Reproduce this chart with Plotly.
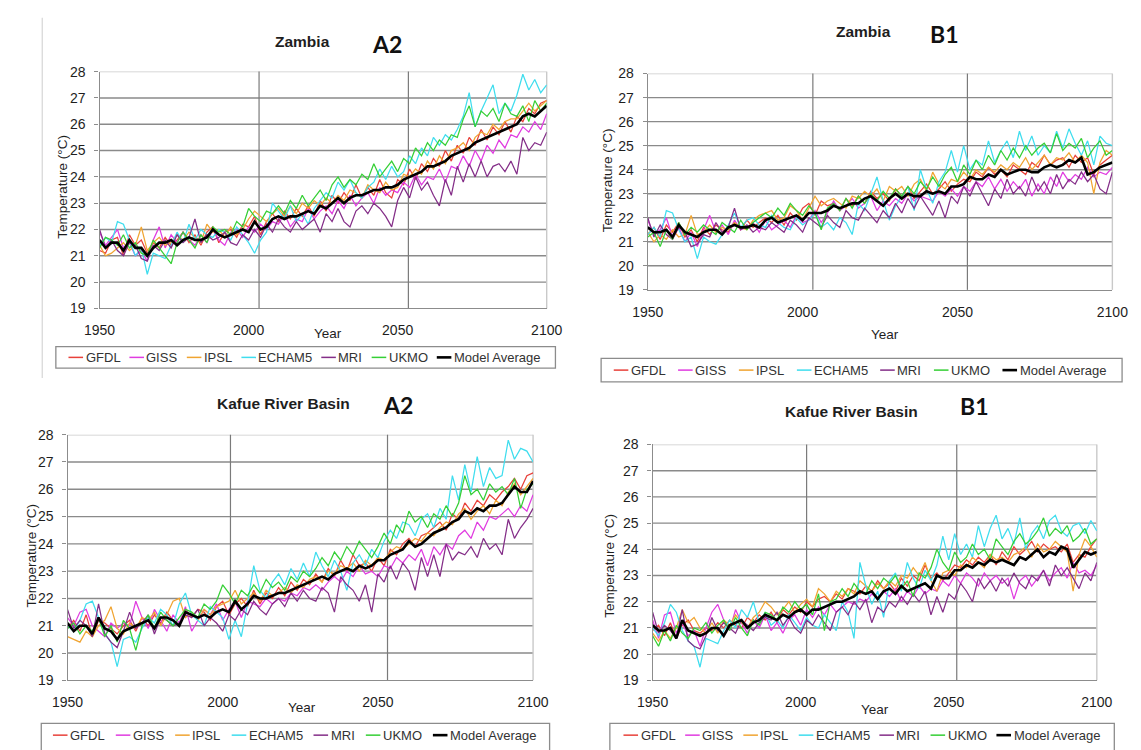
import plotly.graph_objects as go

W, H = 1141, 750
years = list(range(1950, 2101, 2))  # 76 points

models = ["GFDL", "GISS", "IPSL", "ECHAM5", "MRI", "UKMO", "Model Average"]
colors = ["#E8413A", "#E03CE0", "#F0A431", "#3FDDEE", "#842E88", "#35CF35", "#000000"]
xtick_vals = [1950, 2000, 2050, 2100]
ytick_vals = list(range(19, 29))

# ---------------- Zambia A2 ----------------
za2_gfdl = [21.2,21.1,21.6,21.7,21.0,21.8,21.4,21.6,21.1,21.5,
            21.3,21.7,21.4,21.6,21.9,21.5,21.8,21.4,21.9,22.1,
            21.5,21.9,22.0,21.7,22.2,22.1,22.5,21.8,22.3,22.6,
            22.3,22.7,22.4,22.8,22.5,22.9,22.5,23.1,22.7,23.3,
            23.0,23.4,23.1,23.7,23.2,23.6,23.3,23.9,23.4,23.2,
            23.9,23.7,24.3,23.9,24.5,24.2,24.7,24.4,25.0,24.6,
            25.2,24.9,25.5,25.2,25.8,25.4,25.9,25.6,26.1,25.7,
            26.3,26.1,26.6,26.4,26.8,26.9]
za2_giss = [21.9,21.4,21.7,22.0,21.3,21.5,21.0,21.2,20.8,21.6,
            22.1,21.3,21.8,21.5,21.9,21.6,21.4,21.8,21.5,22.0,
            21.6,21.4,21.9,22.0,21.7,22.1,21.9,22.2,22.0,22.3,
            22.2,22.6,22.1,22.4,22.3,22.8,22.4,22.7,22.9,22.6,
            23.1,22.8,23.3,22.9,23.2,23.4,23.0,23.6,23.3,23.5,
            23.4,23.8,23.6,24.1,23.7,24.0,23.9,24.3,23.8,24.4,
            24.3,24.8,24.4,25.0,24.6,25.2,24.9,25.4,25.1,25.6,
            25.5,25.9,25.7,26.1,25.8,26.4]
za2_ipsl = [21.4,21.0,21.1,21.3,21.5,21.2,21.4,22.1,21.2,21.5,
            21.7,21.4,21.5,21.8,21.6,21.9,21.7,21.5,22.2,21.9,
            22.0,21.7,22.1,21.8,22.0,22.4,22.7,22.5,22.3,22.6,
            22.8,22.5,22.9,22.6,23.0,22.8,23.1,22.9,23.2,23.0,
            23.3,23.1,23.5,23.4,23.2,23.7,23.5,23.4,23.8,23.5,
            23.6,24.1,24.0,24.3,24.1,24.6,24.3,24.8,24.5,25.0,
            25.1,25.3,25.0,25.5,25.7,25.6,26.0,25.8,26.1,26.2,
            26.2,26.5,26.8,26.5,26.7,26.9]
za2_echam5 = [21.4,21.7,21.5,22.3,22.2,21.6,21.0,21.3,20.3,21.1,
              21.0,20.9,21.4,21.9,21.5,22.2,21.6,22.0,21.8,21.7,
              22.0,21.9,21.6,22.1,21.8,21.5,21.1,21.6,21.9,23.0,
              22.7,22.4,22.9,22.3,22.6,22.2,22.8,23.1,23.4,23.2,
              23.8,23.5,23.9,23.4,23.2,23.6,23.8,24.3,23.9,24.4,
              24.0,24.2,24.8,24.5,25.1,24.8,25.5,25.2,25.6,25.4,
              25.8,26.3,27.2,25.9,26.5,27.0,27.5,26.4,26.8,26.5,
              27.1,27.9,27.3,27.7,27.2,27.5]
za2_mri = [22.0,21.3,21.6,21.2,21.0,21.5,21.4,20.9,20.8,21.4,
           21.2,21.6,21.3,21.8,21.5,21.7,22.4,21.5,21.8,21.6,
           21.7,21.9,21.5,21.4,21.8,21.6,22.0,21.7,22.2,21.9,
           22.4,22.1,21.9,22.3,22.0,22.2,22.4,21.9,22.6,22.3,
           22.8,22.3,22.1,22.7,22.9,22.6,23.0,22.8,22.5,22.1,
           23.1,23.6,23.2,24.0,23.5,23.8,23.3,22.9,23.9,23.3,
           24.4,23.8,24.5,24.0,24.6,24.0,24.4,24.5,24.2,24.6,
           24.1,25.5,25.0,25.3,25.2,25.7]
za2_ukmo = [21.3,21.7,21.6,21.4,21.8,21.3,21.5,21.1,21.0,21.6,
            21.3,21.0,20.7,21.5,21.9,21.6,21.3,21.8,21.5,22.1,
            21.9,22.0,21.8,22.3,22.1,22.8,22.5,22.3,22.7,22.6,
            22.9,22.6,23.1,22.8,23.3,22.9,23.2,23.5,23.1,23.7,
            24.0,23.6,23.9,23.7,24.1,23.9,24.5,24.0,24.3,24.6,
            24.2,24.7,24.5,25.1,24.8,25.3,25.0,25.4,25.2,25.6,
            25.5,26.2,26.7,25.9,26.5,26.3,26.6,26.1,26.8,26.4,
            26.3,26.7,26.1,26.9,26.5,26.8]
za2_avg = [21.6,21.3,21.5,21.5,21.2,21.6,21.3,21.3,21.0,21.3,
           21.5,21.5,21.6,21.4,21.6,21.7,21.6,21.6,21.7,22.0,
           21.8,21.7,21.8,21.9,22.0,21.9,22.3,22.0,22.1,22.4,
           22.5,22.4,22.5,22.5,22.6,22.7,22.6,22.9,22.8,23.0,
           23.2,23.0,23.2,23.3,23.3,23.4,23.5,23.5,23.6,23.6,
           23.7,23.9,24.0,24.1,24.2,24.4,24.4,24.5,24.6,24.8,
           24.9,25.0,25.1,25.3,25.4,25.5,25.6,25.7,25.8,25.9,
           26.0,26.3,26.4,26.3,26.5,26.7]

# ---------------- Zambia B1 ----------------
zb1_gfdl = [21.3,21.6,21.1,21.7,21.4,21.8,21.2,21.5,21.0,21.6,
            21.3,21.7,21.5,21.4,21.8,21.5,21.9,21.6,21.8,22.0,
            21.8,22.1,21.7,22.2,21.9,22.4,22.6,22.1,22.7,22.5,
            22.6,22.3,22.8,22.5,22.9,22.6,23.1,22.8,23.0,22.7,
            23.2,22.9,23.3,22.8,23.1,23.4,23.0,23.2,23.5,23.1,
            23.4,23.6,23.5,23.9,23.7,24.1,23.8,24.0,23.7,24.2,
            24.0,23.8,24.3,24.1,24.6,24.2,24.4,24.5,24.1,24.6,
            24.3,24.5,23.8,24.2,24.4,24.6]
zb1_giss = [21.9,21.3,21.5,22.0,21.2,21.6,21.0,21.4,20.8,21.5,
            22.1,21.4,21.7,21.3,21.9,21.5,21.6,21.8,21.4,21.9,
            21.5,21.7,21.9,21.6,22.1,21.8,21.9,22.3,21.8,22.2,
            22.7,22.3,22.5,22.8,22.4,22.6,22.9,22.3,22.7,22.5,
            22.8,22.6,23.0,22.7,22.9,22.8,22.7,23.1,22.9,23.2,
            22.9,23.3,23.1,23.5,23.3,23.7,23.2,23.6,23.1,23.5,
            23.2,23.6,22.9,23.4,23.0,23.7,23.3,23.9,23.5,23.8,
            23.6,24.1,23.7,23.9,23.8,24.1]
zb1_ipsl = [21.4,21.0,21.3,21.1,21.5,21.2,21.3,22.1,21.3,21.4,
            21.7,21.4,21.6,21.5,21.8,21.6,21.5,21.9,22.1,22.2,
            22.3,21.9,22.0,22.5,22.3,21.9,22.4,22.9,22.5,22.7,
            22.8,22.6,22.4,22.9,22.8,23.1,22.9,23.2,22.7,23.3,
            23.1,23.3,22.9,23.4,23.6,23.1,23.9,23.4,23.2,23.6,
            23.5,23.9,23.6,24.0,23.8,24.1,23.9,24.2,24.0,24.3,
            24.1,24.5,24.0,24.3,24.6,24.2,24.5,24.4,24.7,24.3,
            24.6,24.3,23.0,24.3,24.8,24.6]
zb1_echam5 = [21.3,21.6,21.2,22.3,22.2,21.5,21.0,21.2,20.3,21.2,
              21.0,20.9,21.3,21.7,22.2,21.6,21.9,22.0,21.7,21.6,
              22.1,21.8,21.6,21.5,22.0,21.7,21.9,22.2,21.6,21.8,
              21.5,22.0,21.8,21.3,22.6,22.3,23.0,23.7,22.7,21.9,
              22.5,22.9,23.3,22.3,24.0,23.2,22.6,23.5,23.9,24.8,
              23.9,25.0,24.0,24.4,24.2,25.2,24.3,24.8,25.2,24.5,
              25.6,24.8,25.4,24.6,25.0,24.7,25.6,24.9,25.7,25.1,
              24.6,25.2,24.2,25.4,25.1,25.0]
zb1_mri = [22.0,21.2,21.7,21.3,21.1,21.6,21.4,20.8,20.9,21.3,
           21.2,21.8,21.4,21.6,22.4,21.5,21.7,21.4,21.6,21.5,
           21.8,21.6,21.4,21.9,21.7,21.4,22.0,21.8,21.6,22.1,
           21.8,21.6,22.3,22.0,21.9,22.4,22.1,21.8,22.3,22.0,
           22.6,22.2,22.8,22.4,22.9,22.5,22.1,22.7,22.0,22.9,
           22.6,23.3,22.9,23.5,23.0,22.5,23.2,22.8,23.6,23.0,
           23.3,22.9,23.7,23.1,23.5,23.0,23.8,23.2,23.6,23.4,
           23.9,23.5,23.8,23.2,23.0,23.9]
zb1_ukmo = [21.2,21.4,20.8,21.5,21.1,21.8,21.3,21.6,21.4,21.7,
            21.5,21.3,21.8,21.6,21.4,21.9,21.5,21.8,22.0,22.2,
            22.0,22.4,22.1,22.6,22.3,22.1,22.5,22.2,21.5,22.4,
            22.6,22.3,22.8,22.4,22.9,22.6,23.0,22.7,23.1,22.8,
            23.2,22.9,23.3,23.0,23.5,23.2,23.7,23.3,23.8,24.1,
            23.5,24.2,23.8,24.4,24.0,24.6,24.2,24.8,24.4,24.9,
            24.5,25.0,24.6,24.9,25.1,24.7,25.5,24.8,25.1,24.9,
            25.3,24.5,24.9,25.2,24.6,24.8]
zb1_avg = [21.6,21.4,21.4,21.5,21.2,21.7,21.4,21.3,21.2,21.4,
           21.5,21.5,21.3,21.6,21.7,21.6,21.6,21.7,21.6,21.9,
           22.0,21.8,21.9,22.0,22.1,21.9,22.2,22.2,22.2,22.3,
           22.5,22.4,22.5,22.6,22.6,22.8,22.9,22.7,22.5,22.8,
           23.0,22.8,23.0,22.9,22.9,23.1,23.0,23.1,23.0,23.3,
           23.3,23.4,23.7,23.6,23.6,23.8,23.7,24.0,23.8,23.9,
           24.0,24.0,23.9,23.9,24.1,24.2,24.1,24.2,24.4,24.3,
           24.5,23.8,23.9,24.1,24.2,24.3]

# ---------------- Kafue River Basin A2 ----------------
ka2_gfdl = [20.9,21.2,20.8,21.4,20.6,21.2,21.1,20.9,20.7,21.0,
            21.2,20.8,21.3,21.0,21.4,21.1,21.5,21.2,21.0,21.6,
            21.3,21.6,21.5,21.2,21.7,21.9,21.4,21.8,22.0,21.7,
            22.3,21.8,22.2,22.0,22.4,22.1,22.6,22.3,22.7,22.5,
            22.9,22.6,23.1,22.8,23.4,23.0,23.6,23.2,23.3,23.0,
            23.5,23.2,23.8,23.6,24.0,24.2,23.9,24.3,24.4,24.6,
            24.8,24.5,25.1,24.9,25.5,25.2,25.6,25.4,25.8,25.6,
            25.9,26.1,26.4,26.0,26.5,26.6]
ka2_giss = [21.3,21.0,21.5,21.6,21.0,20.8,20.6,21.1,20.9,21.1,
            21.0,21.9,21.3,20.9,21.6,21.2,20.8,21.4,21.1,21.7,
            20.8,21.2,21.6,21.4,21.8,21.2,21.6,21.9,21.3,21.9,
            21.8,21.7,22.0,21.8,22.0,21.9,22.2,22.1,22.4,22.3,
            22.5,22.3,22.6,22.8,22.6,23.0,22.8,23.2,22.9,23.0,
            22.8,23.2,23.1,23.5,23.3,23.6,23.4,23.8,23.2,23.9,
            23.6,24.0,23.8,24.3,24.5,24.2,24.8,24.5,25.0,24.9,
            25.1,25.3,25.0,25.4,25.2,25.8]
ka2_ipsl = [20.6,20.5,20.4,20.8,20.6,21.0,21.2,21.7,20.9,20.7,
            21.1,20.9,21.3,21.2,21.5,21.0,21.4,21.9,22.0,21.3,
            21.5,21.2,21.6,21.4,21.7,21.8,21.9,22.3,21.8,22.0,
            22.2,21.9,22.3,22.1,22.2,22.4,22.2,22.5,22.4,22.7,
            22.8,22.6,23.0,22.9,23.2,23.1,23.3,23.0,23.4,23.2,
            23.5,23.4,23.7,23.9,23.8,24.0,24.2,24.1,24.4,24.3,
            24.6,24.8,24.7,25.1,25.3,24.9,25.2,25.4,25.1,25.6,
            25.4,25.9,26.2,25.8,26.1,26.4]
ka2_echam5 = [21.0,20.8,21.2,21.8,21.9,21.3,20.7,20.4,19.5,20.5,
              20.6,20.4,20.9,21.3,21.1,21.6,21.4,21.0,21.8,22.2,
              21.4,21.2,21.0,21.7,21.5,21.3,20.5,21.2,20.6,21.8,
              23.2,22.3,22.0,22.6,22.9,22.5,23.1,22.7,23.3,22.8,
              23.7,23.2,22.8,23.4,23.0,22.3,23.3,23.6,23.2,23.8,
              23.5,24.1,24.5,24.2,24.8,24.7,24.3,24.9,25.1,24.6,
              25.3,24.9,26.5,25.6,26.9,25.9,27.2,26.1,26.8,26.4,
              26.5,27.8,27.1,27.5,27.4,27.0]
ka2_mri = [21.6,20.9,21.2,21.0,20.6,21.8,20.7,20.4,20.2,20.8,
           21.5,20.9,21.1,21.4,20.7,21.3,21.2,21.0,21.1,21.4,
           21.3,21.6,21.0,21.3,21.1,20.8,21.4,21.2,21.6,21.4,
           21.9,21.6,21.4,21.8,22.0,21.7,22.2,21.9,22.3,22.0,
           21.9,22.4,22.2,21.5,22.8,22.5,22.3,21.9,22.5,21.5,
           22.9,22.6,23.2,22.7,23.3,23.0,22.3,23.5,22.8,23.6,
           22.8,24.0,23.4,23.7,23.6,23.9,23.5,24.2,23.8,24.0,
           23.6,24.9,24.2,24.6,24.9,25.3]
ka2_ukmo = [20.9,21.1,20.7,21.0,20.8,21.3,20.6,21.0,20.4,21.2,
            20.9,20.1,21.0,21.4,20.9,21.5,21.2,21.0,21.3,21.6,
            21.5,21.3,21.8,21.6,21.9,22.5,22.2,21.8,22.3,22.1,
            22.5,22.2,22.7,22.4,22.6,22.3,22.8,22.6,23.0,22.8,
            23.1,23.5,23.2,23.7,23.4,23.9,23.6,24.1,23.8,23.5,
            23.9,24.4,24.0,24.7,24.4,25.2,24.8,25.0,24.6,25.1,
            24.9,25.4,25.0,25.5,26.5,25.8,26.0,25.6,26.2,25.9,
            26.1,25.8,26.4,25.3,26.0,26.2]
ka2_avg = [21.1,20.8,21.0,21.0,20.7,21.3,20.9,20.8,20.5,20.8,
           20.9,21.0,21.1,21.2,20.9,21.3,21.3,21.2,21.0,21.5,
           21.4,21.3,21.4,21.3,21.5,21.6,21.5,21.9,21.6,21.8,
           22.1,22.0,22.0,22.1,22.2,22.2,22.3,22.4,22.5,22.6,
           22.7,22.8,22.7,22.9,23.0,23.1,23.0,23.2,23.1,23.2,
           23.4,23.4,23.6,23.7,23.8,24.1,23.9,24.0,24.2,24.4,
           24.5,24.6,24.8,24.9,25.2,25.1,25.3,25.2,25.4,25.4,
           25.5,25.8,26.1,25.9,25.9,26.3]

# ---------------- Kafue River Basin B1 ----------------
kb1_gfdl = [20.9,21.1,20.7,21.2,20.6,21.1,21.3,20.9,20.8,21.0,
            20.9,21.2,21.0,21.3,21.1,21.0,21.4,21.2,21.5,21.3,
            21.6,21.2,21.7,21.5,21.8,21.6,22.0,21.8,22.1,22.2,
            22.0,22.3,22.1,22.5,22.4,22.3,22.6,22.4,22.8,22.5,
            22.7,22.4,22.9,22.6,23.0,22.8,23.4,22.9,23.1,22.8,
            23.1,23.4,23.3,23.6,23.4,23.7,23.5,23.8,23.4,23.9,
            23.6,24.1,23.8,24.0,24.3,23.9,24.2,24.0,24.1,23.9,
            24.2,23.5,23.8,23.7,24.1,24.4]
kb1_giss = [21.3,20.6,21.5,21.6,20.8,21.2,20.7,20.9,20.3,21.0,
            21.6,21.9,21.3,20.9,21.7,21.2,20.8,21.3,21.0,21.5,
            20.9,21.2,20.8,21.3,21.5,21.1,21.7,21.4,21.8,21.5,
            21.9,21.6,21.8,22.0,21.9,22.1,22.0,22.3,22.1,22.4,
            22.2,22.5,22.0,22.4,22.2,22.6,22.3,22.5,22.4,22.8,
            22.6,23.0,22.7,23.1,22.9,22.6,23.1,22.8,23.0,22.7,
            22.9,22.1,22.8,23.0,22.6,22.9,23.2,22.8,23.1,23.3,
            22.9,23.5,23.1,23.2,23.0,23.4]
kb1_ipsl = [20.8,20.5,20.9,20.6,21.0,21.7,21.2,21.4,21.0,20.8,
            21.2,20.8,21.3,21.1,21.5,21.2,21.0,21.4,21.6,22.0,
            21.8,21.5,21.7,22.0,21.6,21.9,22.1,21.8,22.5,22.3,
            22.0,22.4,22.2,22.5,22.3,22.8,22.6,22.4,22.7,22.5,
            22.8,22.6,23.0,22.9,23.3,23.0,23.5,22.8,22.4,23.1,
            23.2,23.0,23.4,23.3,23.7,23.5,23.3,23.8,23.6,23.7,
            23.5,23.8,23.9,24.1,23.7,24.2,23.9,24.0,24.3,24.1,
            23.9,22.4,23.8,24.4,24.1,23.7]
kb1_echam5 = [21.0,20.7,21.2,21.9,21.6,20.9,20.5,20.3,19.5,20.6,
              20.5,20.4,20.9,21.3,21.0,21.7,21.4,22.0,21.2,21.6,
              21.1,21.3,21.0,21.5,21.2,20.9,21.4,21.1,21.0,21.5,
              21.2,20.9,22.0,21.6,20.6,23.5,22.6,21.9,22.4,21.4,
              22.8,23.1,22.4,23.5,22.9,22.5,23.2,22.8,23.4,24.5,
              23.6,24.6,23.8,24.2,23.7,24.9,24.1,24.8,25.3,24.4,
              24.8,24.2,25.2,24.0,24.6,24.9,24.4,25.1,25.3,24.7,
              24.5,24.9,25.0,24.6,25.1,24.7]
kb1_mri = [21.6,20.8,21.1,20.9,20.6,21.7,20.5,20.3,20.2,20.7,
           21.4,20.9,21.2,21.0,20.8,21.3,21.1,20.9,21.2,21.4,
           21.3,21.6,21.1,21.4,21.0,20.8,21.3,21.1,21.5,21.2,
           20.9,21.6,21.8,21.5,22.0,21.7,22.1,21.2,21.8,21.6,
           22.0,21.8,22.2,21.9,22.3,22.0,22.4,21.5,22.2,21.6,
           22.3,22.1,22.7,22.4,22.0,22.9,22.5,22.8,22.4,22.9,
           22.6,23.1,22.7,22.5,23.0,22.8,23.2,22.6,23.4,23.0,
           23.3,22.9,22.5,23.1,22.8,23.5]
kb1_ukmo = [20.7,20.3,20.9,20.5,21.1,20.8,20.6,21.0,20.9,21.2,
            20.8,21.1,21.3,20.9,21.4,21.0,20.7,21.3,21.1,21.6,
            21.5,21.3,21.8,21.6,22.0,21.7,21.9,21.5,22.3,20.9,
            22.0,22.1,22.5,22.2,22.7,22.4,22.3,22.8,22.5,22.9,
            22.7,23.0,22.5,22.8,22.2,23.1,22.9,23.3,24.0,23.5,
            23.2,23.9,23.5,23.7,24.2,23.8,24.0,23.6,24.4,24.1,
            23.8,24.3,24.6,24.2,24.4,24.7,25.2,24.5,24.8,24.6,
            24.9,24.3,24.5,24.8,24.2,24.4]
kb1_avg = [21.1,20.9,20.9,21.0,20.6,21.3,20.9,20.8,20.7,20.8,
           21.0,21.0,20.7,21.1,21.2,21.3,21.0,21.2,21.3,21.5,
           21.4,21.3,21.5,21.4,21.6,21.7,21.5,21.7,21.7,21.8,
           21.9,22.0,22.0,22.1,22.2,22.4,22.3,22.4,22.1,22.4,
           22.5,22.3,22.6,22.4,22.5,22.6,22.7,22.5,23.0,22.9,
           22.9,23.2,23.2,23.4,23.3,23.5,23.4,23.6,23.5,23.6,
           23.5,23.4,23.7,23.6,23.8,24.0,23.7,23.9,23.8,24.1,
           24.0,23.3,23.6,23.9,23.8,23.9]

# ---------------- panel layout (pixels) ----------------
panels = [
    dict(region="Zambia", scen="A2",
         series=[za2_gfdl, za2_giss, za2_ipsl, za2_echam5, za2_mri, za2_ukmo, za2_avg],
         plot=(86, 546, 65, 307), title=(295, 34), scen_pos=(382, 37),
         year=(321, 333), ytitle=(47, 183), vgrid=(2003.5, 2053.6),
         legbox=(41, 346, 555, 368), legstart=54, leggap=12.0, legy=357),
    dict(region="Zambia", scen="B1",
         series=[zb1_gfdl, zb1_giss, zb1_ipsl, zb1_echam5, zb1_mri, zb1_ukmo, zb1_avg],
         plot=(650, 1128, 67, 288), title=(872, 24), scen_pos=(955, 27),
         year=(894, 334), ytitle=(608, 176), vgrid=(2003.3, 2053.2),
         legbox=(602, 358, 1138, 382), legstart=615, leggap=15.5, legy=370),
    dict(region="Kafue River Basin", scen="A2",
         series=[ka2_gfdl, ka2_giss, ka2_ipsl, ka2_echam5, ka2_mri, ka2_ukmo, ka2_avg],
         plot=(53, 532, 436, 687), title=(275, 404), scen_pos=(393, 406),
         year=(294, 715), ytitle=(16, 560), vgrid=(2002.5, 2053.1),
         legbox=(26, 731, 549, 775), legstart=38, leggap=14.0, legy=743),
    dict(region="Kafue River Basin", scen="B1",
         series=[kb1_gfdl, kb1_giss, kb1_ipsl, kb1_echam5, kb1_mri, kb1_ukmo, kb1_avg],
         plot=(655, 1112, 446, 687), title=(860, 412), scen_pos=(986, 407),
         year=(884, 717), ytitle=(611, 570), vgrid=(2002.0, 2052.7),
         legbox=(611, 731, 1130, 775), legstart=625, leggap=12.8, legy=743),
]

for p in panels:
    for s in p["series"]:
        assert len(s) == len(years), (p["region"], p["scen"], len(s))

# Arial / Liberation Sans advance widths (per 1000 em)
CW = {"G": 778, "F": 611, "D": 722, "L": 556, "I": 278, "S": 667, "P": 667, "E": 667,
      "C": 722, "H": 722, "A": 667, "M": 833, "5": 556, "R": 722, "U": 722, "K": 667,
      "O": 778, "o": 556, "d": 556, "e": 556, "l": 222, " ": 278, "v": 500, "r": 333,
      "a": 556, "g": 556}


def text_w(s, size):
    return sum(CW.get(c, 556) for c in s) * size / 1000.0


def px(x):
    return x / W


def py(y):
    return 1 - y / H


FONT = "Liberation Sans, Arial, sans-serif"
TXT = "#1e1e1e"
GRID = "#8a8a8a"

fig = go.Figure()
shapes = []
annotations = []

for i, p in enumerate(panels, start=1):
    xa = "x" if i == 1 else f"x{i}"
    ya = "y" if i == 1 else f"y{i}"
    x0, x1, y0, y1 = p["plot"]

    for name, col, vals in zip(models, colors, p["series"]):
        fig.add_trace(go.Scatter(
            x=years, y=vals, mode="lines", name=name, xaxis=xa, yaxis=ya,
            line=dict(color=col, width=2.6 if name == "Model Average" else 1.25),
            showlegend=False, hoverinfo="skip"))

    fig.layout[f"xaxis{'' if i == 1 else i}"] = dict(
        domain=[px(x0), px(x1)], anchor=ya, range=[1950, 2100],
        tickvals=xtick_vals, ticktext=[str(v) for v in xtick_vals],
        showgrid=False, zeroline=False, ticks="", showline=True,
        linecolor="#8c8c8c", linewidth=1.4,
        tickfont=dict(size=14, color=TXT, family=FONT), ticklabelstandoff=9,
        fixedrange=True)
    fig.layout[f"yaxis{'' if i == 1 else i}"] = dict(
        domain=[py(y1), py(y0)], anchor=xa, range=[19, 28],
        tickvals=ytick_vals, showgrid=False, zeroline=False,
        ticks="outside", ticklen=4, tickcolor="#8c8c8c", tickwidth=1.2,
        showline=True, linecolor="#8c8c8c", linewidth=1.4,
        tickfont=dict(size=14, color=TXT, family=FONT), ticklabelstandoff=6,
        fixedrange=True)

    # horizontal gridlines
    for v in ytick_vals[1:-1]:
        shapes.append(dict(type="line", xref=f"{xa} domain", yref=ya, x0=0, x1=1,
                           y0=v, y1=v, line=dict(color=GRID, width=1.4), layer="below"))
    # light top and right border
    shapes.append(dict(type="line", xref=f"{xa} domain", yref=ya, x0=0, x1=1,
                       y0=28, y1=28, line=dict(color="#c9c9c9", width=1.4), layer="below"))
    shapes.append(dict(type="line", xref=f"{xa} domain", yref=f"{ya} domain", x0=1, x1=1,
                       y0=0, y1=1, line=dict(color="#c9c9c9", width=1.4), layer="below"))
    # vertical gridlines
    for gx in p["vgrid"]:
        shapes.append(dict(type="line", xref=xa, yref=f"{ya} domain", x0=gx, x1=gx,
                           y0=0, y1=1, line=dict(color="#7a7a7a", width=1.2), layer="below"))

    # titles
    annotations.append(dict(x=px(p["title"][0]), y=py(p["title"][1]), xref="paper", yref="paper",
                            text=f"<b>{p['region']}</b>", showarrow=False,
                            xanchor="center", yanchor="middle",
                            font=dict(size=15.5, color=TXT, family=FONT)))
    annotations.append(dict(x=px(p["scen_pos"][0]), y=py(p["scen_pos"][1]), xref="paper", yref="paper",
                            text=f"<b>{p['scen']}</b>", showarrow=False,
                            xanchor="center", yanchor="middle",
                            font=dict(size=23, color="#111111", family="Lato, Open Sans, sans-serif")))
    annotations.append(dict(x=px(p["year"][0]), y=py(p["year"][1]), xref="paper", yref="paper",
                            text="Year", showarrow=False, xanchor="center", yanchor="middle",
                            font=dict(size=13.5, color=TXT, family=FONT)))
    annotations.append(dict(x=px(p["ytitle"][0]), y=py(p["ytitle"][1]), xref="paper", yref="paper",
                            text="Temperature (°C)", textangle=-90, showarrow=False,
                            xanchor="center", yanchor="middle",
                            font=dict(size=13.5, color=TXT, family=FONT)))

    # legend box
    bx0, by0, bx1, by1 = p["legbox"]
    shapes.append(dict(type="rect", xref="paper", yref="paper",
                       x0=px(bx0), x1=px(bx1), y0=py(by1), y1=py(by0),
                       line=dict(color="#8c8c8c", width=1.3), fillcolor="rgba(0,0,0,0)"))
    sx = p["legstart"]
    ly = p["legy"]
    for name, col in zip(models, colors):
        shapes.append(dict(type="line", xref="paper", yref="paper",
                           x0=px(sx), x1=px(sx + 15), y0=py(ly), y1=py(ly),
                           line=dict(color=col, width=2.6 if name == "Model Average" else 1.5)))
        annotations.append(dict(x=px(sx + 15.5), y=py(ly), xref="paper", yref="paper",
                                text=name, showarrow=False, xanchor="left", yanchor="middle",
                                font=dict(size=13, color="#333333", family=FONT)))
        sx += 16 + text_w(name, 13) + p["leggap"]

# thin page border line at the left of the first chart
shapes.append(dict(type="line", xref="paper", yref="paper", x0=px(27), x1=px(27),
                   y0=py(378), y1=py(10), line=dict(color="#d6d6d6", width=1.2)))

fig.update_layout(
    width=W, height=H, margin=dict(l=0, r=0, t=0, b=0),
    paper_bgcolor="white", plot_bgcolor="white",
    showlegend=False, shapes=shapes, annotations=annotations,
    font=dict(family=FONT, color=TXT))

fig.write_html("out.html", config={"displayModeBar": False})
